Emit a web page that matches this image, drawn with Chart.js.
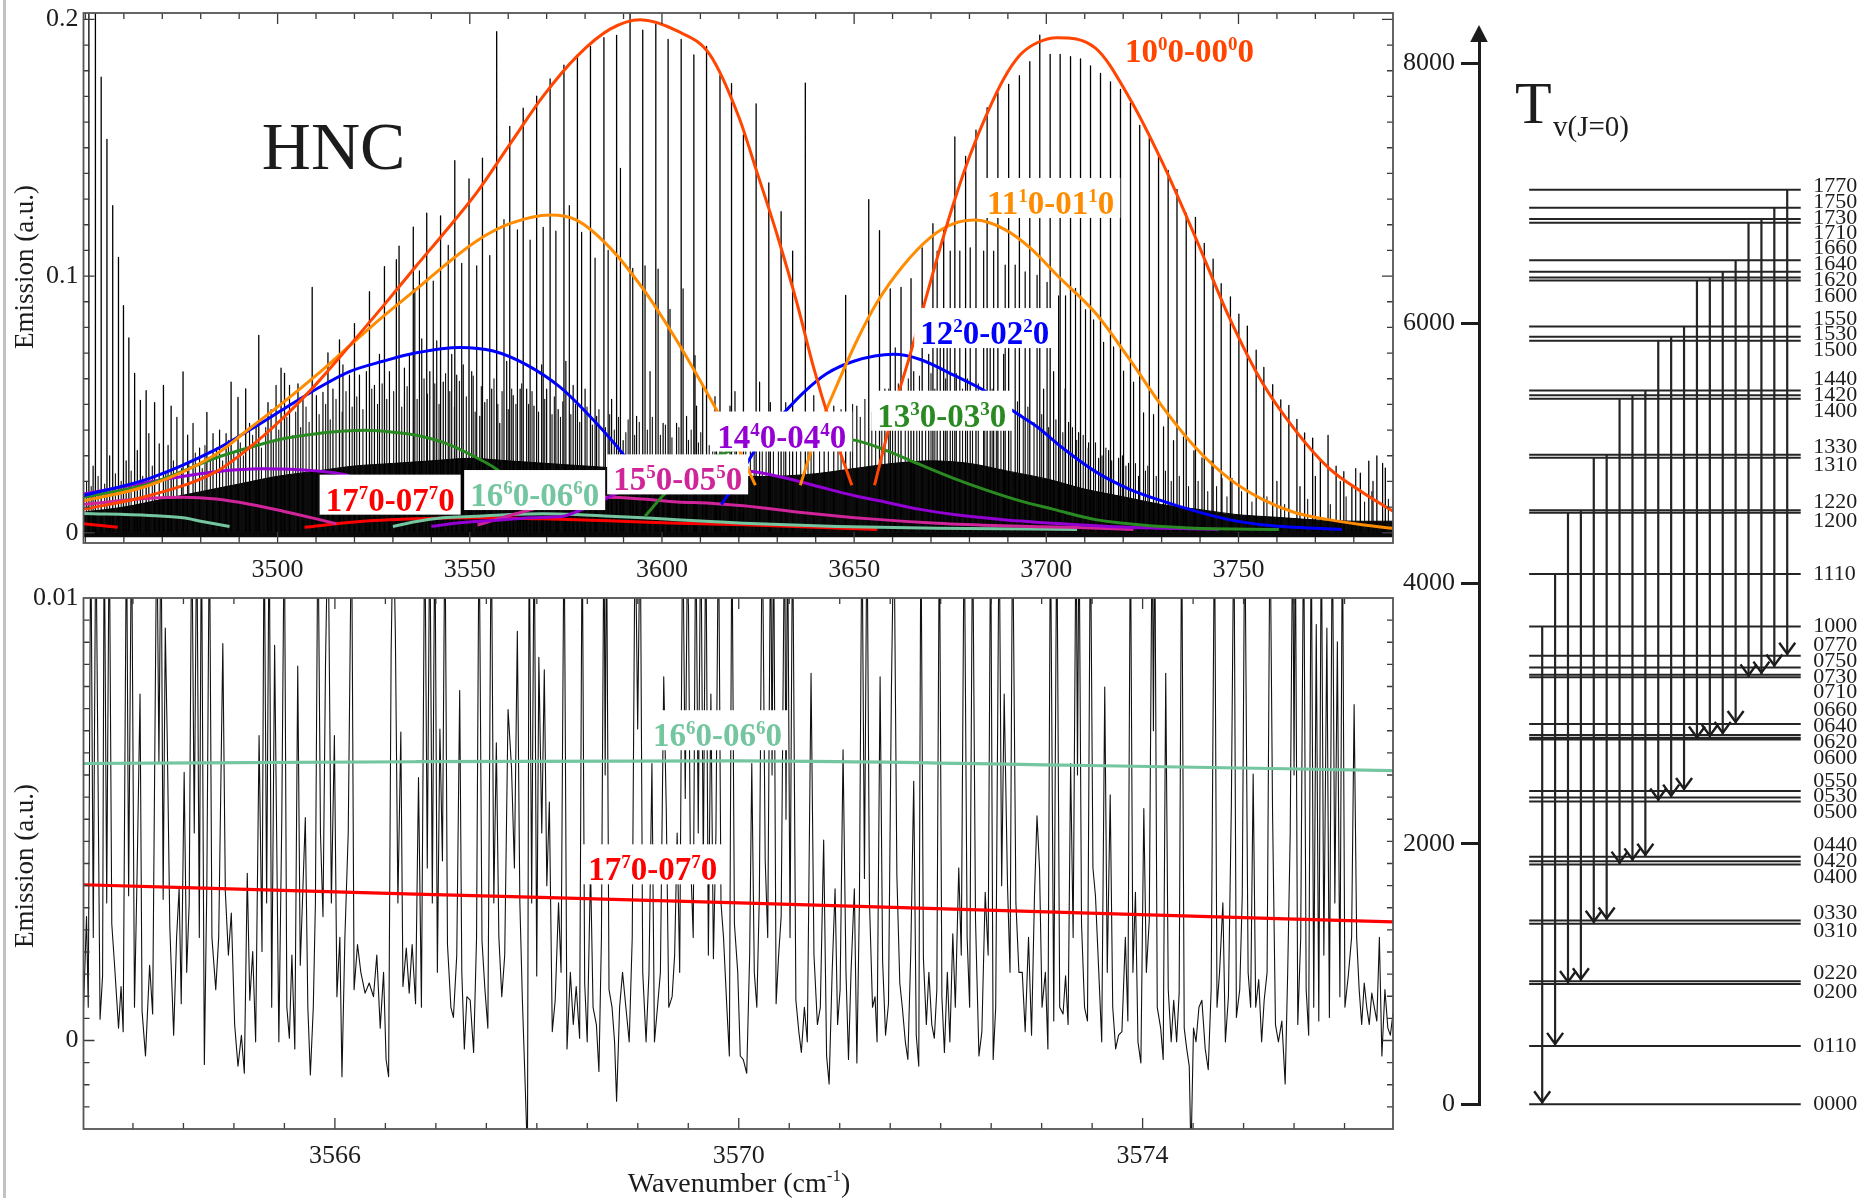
<!DOCTYPE html>
<html>
<head>
<meta charset="utf-8">
<script src="https://cdn.jsdelivr.net/npm/chart.js@4.4.1/dist/chart.umd.min.js"></script>
<style>
  html, body { margin: 0; padding: 0; background: #fff; }
  body { width: 1862px; height: 1198px; position: relative; overflow: hidden; }
  canvas { position: absolute; }
  #edge { position: absolute; left: 3px; top: 0; width: 3px; height: 1198px; background: #c2c2c2; }
</style>
</head>
<body>
<div id="edge"></div>
<canvas id="survey" width="1400" height="600" style="left:0;top:0"></canvas>
<canvas id="closeup" width="1400" height="618" style="left:0;top:580px"></canvas>
<canvas id="levels" width="482" height="1198" style="left:1380px;top:0"></canvas>
<script>
const SERIF = '"Liberation Serif", "Times New Roman", serif';
const INK = '#1c1c1c';

// ---------- survey spectrum (top panel) ----------
const surveyTickLabelsX = [3500, 3550, 3600, 3650, 3700, 3750];
const surveyTickLabelsY = [0, 0.1, 0.2];

// strongest rotational lines [wavenumber, emission]
const strongLines = [
  [3450.9,0.21],[3452.6,0.21],[3454.1,0.1775],[3455.6,0.1533],[3457.1,0.1274],[3458.6,0.1073],
  [3459.9,0.0885],[3461.3,0.0759],[3462.8,0.0621],[3464.3,0.0516],[3465.8,0.0554],[3468.0,0.0507],
  [3470.3,0.0574],[3472.3,0.0493],[3475.4,0.0627],[3481.6,0.0469],[3487.9,0.0587],[3489.7,0.0527],
  [3491.7,0.056],[3495.1,0.0769],[3497.5,0.0507],[3500.9,0.0641],[3501.8,0.0621],[3505.3,0.058],
  [3509.0,0.0956],[3513.1,0.0701],[3516.1,0.0751],[3520.0,0.0815],[3523.9,0.0939],[3527.8,0.1037],
  [3530.9,0.1064],[3531.6,0.1117],[3535.3,0.1191],[3538.8,0.1245],[3542.4,0.1234],[3546.1,0.145],
  [3549.8,0.1379],[3553.3,0.1459],[3557.0,0.1952],[3560.4,0.1583],[3563.9,0.1654],[3567.4,0.1701],
  [3570.9,0.1768],[3574.5,0.1822],[3578.0,0.1862],[3581.4,0.1895],[3584.9,0.1929],[3588.2,0.1938],
  [3591.7,0.2024],[3595.0,0.1958],[3598.4,0.1982],[3601.6,0.1922],[3605.0,0.1922],[3608.3,0.1862],
  [3611.6,0.1895],[3615.1,0.1781],[3618.1,0.175],[3621.2,0.155],[3624.5,0.1671],[3627.8,0.1363],
  [3631.0,0.1251],[3634.0,0.1097],[3637.3,0.1752],[3647.8,0.0925],[3653.8,0.1298],[3656.6,0.1177],
  [3659.4,0.095],[3662.2,0.0956],[3664.8,0.099],[3667.7,0.111],[3670.5,0.1204],[3673.3,0.1177],
  [3676.2,0.1542],[3679.0,0.1466],[3681.7,0.1569],[3684.6,0.1656],[3687.4,0.1714],[3690.2,0.1747],
  [3693.0,0.1781],[3695.7,0.1835],[3698.3,0.1939],[3701.0,0.1864],[3703.6,0.1864],[3706.3,0.1855],
  [3708.9,0.1846],[3711.5,0.1819],[3714.1,0.179],[3716.7,0.1757],[3719.3,0.1727],[3721.9,0.1674],
  [3724.3,0.1587],[3726.8,0.1537],[3729.2,0.1473],[3731.7,0.1412],[3734.0,0.1338],[3736.4,0.1245],
  [3738.8,0.1229],[3741.1,0.1127],[3743.4,0.1066],[3745.5,0.097],[3747.9,0.0919],[3750.1,0.0852],
  [3752.3,0.0805],[3754.6,0.0711],[3756.6,0.0644],[3758.9,0.0577],[3761.0,0.0518],[3763.1,0.0496],
  [3765.2,0.0442],[3767.2,0.0389],[3769.3,0.0369],[3771.3,0.0285],[3773.3,0.0379],[3775.4,0.0259],
  [3777.4,0.0238],[3779.5,0.0178],[3781.7,0.0232],[3783.9,0.0279],[3786.0,0.0299],[3788.2,0.0252]
];

// hot-band lines of medium strength
const mediumLines = [
  [3536.9,0.102],[3540.5,0.098],[3544.4,0.112],[3547.9,0.105],[3551.8,0.104],[3555.2,0.108],
  [3558.9,0.122],[3562.4,0.118],[3565.7,0.114],[3569.1,0.119],[3572.4,0.1175],[3575.9,0.1275],
  [3579.1,0.117],[3582.6,0.107],[3586.0,0.11],[3589.2,0.142],[3592.4,0.103],[3595.6,0.104],
  [3599.0,0.1027],[3602.1,0.087],[3605.5,0.095],[3608.6,0.069],[3610.6,0.057],[3613.8,0.053],
  [3619.0,0.055],[3671.6,0.1097],[3675.0,0.1097],[3677.5,0.1097],[3680.2,0.111],[3683.7,0.1097],
  [3686.3,0.1097],[3689.3,0.1043],[3691.9,0.1043],[3694.5,0.1016],[3697.6,0.1003],[3700.2,0.0976],
  [3703.2,0.0923],[3705.0,0.0923],[3707.6,0.0952],[3710.2,0.0869],[3712.3,0.0829],[3714.9,0.0742],
  [3717.5,0.0724],[3720.1,0.063],[3722.7,0.0587],[3725.3,0.0467],[3727.9,0.046],[3730.5,0.0413],
  [3733.1,0.0359],[3735.7,0.0373],[3738.4,0.0319],[3740.5,0.0292],[3743.1,0.0279],[3745.7,0.0212],
  [3748.3,0.0212]
];

// weaker lines standing out of the dense forest
const weakLines = [
  [3452.0,0.026],[3456.3,0.03],[3460.6,0.028],[3463.5,0.032],[3466.5,0.0386],[3469.2,0.0346],
  [3471.5,0.034],[3473.8,0.045],[3476.6,0.038],[3478.0,0.0426],[3479.7,0.033],[3483.2,0.0386],
  [3484.9,0.04],[3486.6,0.0386],[3492.7,0.0426],[3494.4,0.0426],[3498.3,0.048],[3499.6,0.0574],
  [3503.1,0.0574],[3506.6,0.052],[3510.1,0.0534],[3511.8,0.0547],[3514.4,0.056],[3517.0,0.0654],
  [3518.7,0.0614],[3521.3,0.0614],[3523.1,0.0628],[3525.2,0.0574],[3526.5,0.0695],[3529.1,0.0628],
  [3533.0,0.0641],[3534.3,0.0695],[3535.7,0.095],[3537.5,0.0755],[3539.6,0.0628],[3541.4,0.0748],
  [3543.1,0.0587],[3545.3,0.0695],[3546.6,0.0614],[3548.3,0.0654],[3550.5,0.0628],[3552.6,0.0453],
  [3553.9,0.0507],[3555.7,0.056],[3557.8,0.0426],[3559.6,0.0668],[3561.3,0.0534],[3563.1,0.056],
  [3564.8,0.056],[3566.7,0.0493],[3568.7,0.0654],[3570.0,0.056],[3573.0,0.048],[3575.0,0.0668],
  [3576.9,0.0574],[3580.0,0.056],[3583.0,0.0453],[3586.9,0.052],[3589.9,0.0359],[3593.4,0.0453],
  [3596.9,0.0628],[3600.3,0.0426],[3603.8,0.0426],[3606.4,0.0453],[3609.0,0.0493],[3614.2,0.0426],
  [3617.7,0.0493],[3620.3,0.0386],[3625.4,0.0587],[3628.2,0.0507],[3632.2,0.0507],[3639.5,0.0534],
  [3642.2,0.047],[3644.7,0.0493],[3650.7,0.0493],[3658.0,0.056],[3660.7,0.072],[3665.5,0.0628],
  [3669.4,0.0695],[3672.4,0.0762],[3674.2,0.0829],[3685.4,0.0774],[3688.9,0.0695],[3699.3,0.056],
  [3701.9,0.0628],[3704.9,0.056],[3705.8,0.043],[3708.4,0.039],[3711.0,0.035],[3713.6,0.029],
  [3716.2,0.032],[3718.8,0.029],[3721.4,0.027],[3724.0,0.022],[3760.0,0.02],[3766.0,0.018],
  [3770.0,0.022],[3776.5,0.02],[3780.5,0.025],[3785.0,0.02],[3787.5,0.027]
];

// faint lines making up the dense forest
const faintLines = [
  [3450.3,0.02],[3451.5,0.018],[3453.3,0.022],[3455.0,0.019],[3457.8,0.023],[3459.3,0.02],
  [3461.9,0.024],[3464.9,0.022],[3467.4,0.026],[3470.9,0.024],[3472.9,0.028],[3475.0,0.025],
  [3476.9,0.027],[3478.6,0.031],[3480.4,0.025],[3481.1,0.034],[3482.5,0.029],[3484.1,0.033],
  [3485.7,0.028],[3487.2,0.036],[3488.6,0.031],[3490.3,0.035],[3491.1,0.03],[3493.5,0.038],
  [3495.8,0.033],[3496.9,0.041],[3498.9,0.036],[3500.3,0.04],[3502.4,0.045],[3504.0,0.038],
  [3504.7,0.047],[3506.0,0.041],[3507.4,0.049],[3508.2,0.043],[3510.8,0.046],[3512.5,0.05],
  [3513.7,0.044],[3515.2,0.052],[3516.8,0.047],[3517.8,0.055],[3519.4,0.049],[3520.6,0.053],
  [3522.2,0.048],[3524.5,0.056],[3526.0,0.05],[3527.2,0.058],[3528.4,0.052],[3530.2,0.055],
  [3532.3,0.049],[3533.7,0.057],[3536.3,0.052],[3538.1,0.06],[3539.0,0.054],[3540.9,0.058],
  [3542.0,0.05],[3543.7,0.062],[3544.8,0.055],[3546.0,0.049],[3547.3,0.059],[3549.1,0.053],
  [3550.9,0.061],[3551.4,0.047],[3553.0,0.057],[3554.5,0.052],[3556.3,0.06],[3557.3,0.05],
  [3558.4,0.055],[3560.0,0.048],[3560.9,0.056],[3562.0,0.05],[3563.5,0.058],[3565.3,0.05],
  [3566.2,0.055],[3567.9,0.047],[3569.5,0.052],[3571.4,0.046],[3572.0,0.053],[3573.6,0.045],
  [3574.2,0.051],[3576.3,0.046],[3577.5,0.05],[3578.6,0.043],[3580.5,0.049],[3581.9,0.042],
  [3583.6,0.048],[3585.3,0.041],[3586.4,0.046],[3587.6,0.04],[3588.7,0.045],[3590.6,0.039],
  [3591.2,0.044],[3592.9,0.038],[3594.1,0.043],[3596.2,0.04],[3597.5,0.045],[3599.6,0.038],
  [3600.9,0.042],[3602.6,0.037],[3604.4,0.041],[3606.9,0.036],[3607.6,0.04],[3609.5,0.035],
  [3610.1,0.039],[3612.3,0.034],[3613.2,0.04],[3615.6,0.035],[3616.6,0.038],[3619.4,0.034],
  [3621.8,0.039],[3623.0,0.034],[3624.0,0.041],[3626.1,0.036],[3627.1,0.042],[3629.0,0.037],
  [3630.3,0.043],[3631.7,0.038],[3633.2,0.044],[3635.0,0.039],[3636.1,0.045],[3638.0,0.04],
  [3638.8,0.046],[3641.0,0.041],[3643.3,0.047],[3645.8,0.042],[3646.6,0.048],[3649.0,0.043],
  [3649.6,0.05],[3651.6,0.045],[3652.8,0.052],[3654.6,0.047],[3655.6,0.054],[3657.2,0.049],
  [3659.0,0.056],[3660.0,0.05],[3661.5,0.058],[3663.3,0.052],[3664.1,0.06],[3666.3,0.054],
  [3667.0,0.061],[3668.6,0.055],[3670.0,0.062],[3671.0,0.056],[3673.8,0.06],[3675.6,0.055],
  [3676.6,0.062],[3678.2,0.056],[3679.5,0.06],[3680.8,0.054],[3682.3,0.058],[3684.0,0.052],
  [3685.9,0.056],[3687.0,0.05],[3688.2,0.054],[3690.8,0.048],[3692.5,0.051],[3694.0,0.045],
  [3695.2,0.049],[3696.8,0.043],[3698.8,0.046],[3700.6,0.041],[3702.5,0.044],[3704.3,0.039],
  [3706.8,0.041],[3707.9,0.036],[3709.6,0.038],[3710.9,0.033],[3712.8,0.035],[3714.5,0.03],
  [3715.5,0.033],[3717.0,0.028],[3719.8,0.03],[3720.7,0.026],[3723.2,0.027],[3725.8,0.024],
  [3726.4,0.026],[3728.6,0.022],[3731.0,0.024],[3732.5,0.02],[3734.6,0.022],[3737.0,0.018],
  [3739.5,0.02],[3742.0,0.016],[3744.3,0.018],[3747.0,0.014],[3750.8,0.016],[3753.5,0.012],
  [3757.4,0.014],[3762.0,0.011],[3768.0,0.013],[3773.9,0.011],[3778.0,0.014],[3782.8,0.012],
  [3784.7,0.016],[3789.0,0.013]
];

// upper edge of the unresolved line forest near the baseline
const forestEdge = [
  [3449.5,0.008],[3460,0.01],[3470,0.013],[3480,0.016],[3490,0.019],[3500,0.022],[3510,0.024],
  [3520,0.026],[3530,0.027],[3540,0.028],[3550,0.029],[3560,0.028],[3570,0.027],[3580,0.026],
  [3590,0.025],[3600,0.024],[3610,0.023],[3620,0.022],[3630,0.022],[3640,0.023],[3650,0.025],
  [3660,0.027],[3670,0.028],[3680,0.027],[3690,0.024],[3700,0.021],[3710,0.017],[3720,0.014],
  [3730,0.011],[3740,0.009],[3750,0.007],[3760,0.006],[3770,0.005],[3780,0.0045],[3790.2,0.0045]
];

// band envelopes: P branch and R branch of each transition
const env10P = [[3449.5,0.0091],[3466.7,0.0145],[3484.0,0.0238],[3492.7,0.0332],[3501.4,0.0447],[3510.1,0.058],[3518.7,0.0728],[3527.4,0.0882],[3536.1,0.104],[3543.1,0.1164],[3551.8,0.1325],[3560.4,0.1513],[3569.1,0.1701],[3577.8,0.1855],[3586.5,0.1962],[3594.3,0.1999],[3603.8,0.1956],[3612.5,0.1862],[3620.0,0.162],[3624.7,0.1406],[3629.9,0.1164],[3635.1,0.0896],[3639.5,0.0641],[3643.8,0.0426],[3649.4,0.0185]];
const env10R = [[3655.3,0.0185],[3660.3,0.048],[3664.6,0.0695],[3668.1,0.0883],[3671.6,0.107],[3675.9,0.1285],[3680.2,0.1473],[3684.6,0.1634],[3688.9,0.1768],[3693.2,0.1862],[3697.6,0.1909],[3702.8,0.1929],[3712.8,0.1888],[3721.4,0.17],[3730.1,0.1446],[3738.8,0.1151],[3747.5,0.0842],[3756.1,0.0587],[3764.8,0.0399],[3773.5,0.0252],[3782.2,0.0158],[3790.2,0.0084]];
const env11P = [[3449.5,0.0124],[3466.7,0.0185],[3484.0,0.0306],[3492.7,0.0406],[3501.4,0.0507],[3510.1,0.0614],[3518.7,0.0728],[3527.4,0.0842],[3536.1,0.0949],[3543.1,0.1037],[3551.8,0.1137],[3560.4,0.1204],[3570.9,0.1238],[3577.8,0.1218],[3586.5,0.111],[3595.1,0.095],[3603.8,0.075],[3610.8,0.057],[3616.0,0.043],[3620.5,0.031],[3624.3,0.0185]];
const env11R = [[3636.0,0.0185],[3640.3,0.0386],[3645.5,0.0574],[3650.7,0.0748],[3655.9,0.0896],[3662.9,0.1043],[3669.8,0.115],[3675.9,0.1204],[3681.5,0.1218],[3688.9,0.1184],[3695.8,0.111],[3702.8,0.1003],[3712.8,0.0856],[3721.4,0.0681],[3730.1,0.0493],[3738.8,0.0332],[3747.5,0.0212],[3756.1,0.0131],[3764.8,0.0078],[3773.5,0.0051],[3782.2,0.0031],[3790.2,0.0017]];
const env12P = [[3449.5,0.0145],[3466.7,0.0212],[3484.0,0.0325],[3492.7,0.04],[3501.4,0.048],[3510.1,0.056],[3518.7,0.0628],[3527.4,0.0668],[3536.1,0.0701],[3547.4,0.0722],[3556.1,0.0708],[3564.8,0.0654],[3573.5,0.0567],[3582.1,0.044],[3589.9,0.0306],[3595.5,0.0185]];
const env12R = [[3615.5,0.011],[3618.5,0.018],[3623.0,0.0292],[3627.0,0.039],[3632.1,0.0473],[3636.9,0.0547],[3642.9,0.062],[3649.9,0.0668],[3660.3,0.0695],[3667.2,0.0675],[3675.9,0.0614],[3684.6,0.0547],[3691.5,0.0473],[3697.6,0.0413],[3704.1,0.0332],[3712.8,0.0238],[3721.4,0.0171],[3730.1,0.0124],[3738.8,0.0084],[3747.5,0.0051],[3756.1,0.0031],[3764.8,0.0021],[3776.9,0.0013]];
const env13P = [[3449.5,0.0138],[3466.7,0.0191],[3484.0,0.0292],[3492.7,0.0332],[3501.4,0.0366],[3510.1,0.0386],[3518.7,0.0397],[3523.0,0.0399],[3531.7,0.0389],[3536.1,0.038],[3543.1,0.0352],[3551.8,0.0292],[3557.8,0.0238],[3561.0,0.0185]];
const env13R = [[3595.6,0.0064],[3600.3,0.0145],[3608.0,0.025],[3618.0,0.032],[3630.0,0.036],[3640.0,0.0372],[3650.7,0.0359],[3658.6,0.0319],[3667.2,0.0265],[3675.9,0.0212],[3684.6,0.0165],[3693.2,0.0124],[3701.9,0.0091],[3712.8,0.0051],[3721.4,0.0035],[3730.1,0.0024],[3738.8,0.0017],[3760.5,0.0013]];
const env14P = [[3449.5,0.0151],[3466.7,0.0198],[3484.0,0.0238],[3496.2,0.0249],[3510.1,0.0241],[3517.0,0.0228],[3522.0,0.0205]];
const env14R = [[3540.0,0.0025],[3547.0,0.0038],[3556.0,0.0048],[3566.0,0.0058],[3574.3,0.0064],[3577.0,0.0077],[3585.0,0.013],[3595.0,0.02],[3605.0,0.0235],[3615.0,0.0245],[3623.9,0.0238],[3632.5,0.0212],[3641.2,0.0178],[3649.9,0.0145],[3658.6,0.0118],[3667.2,0.0091],[3675.9,0.0071],[3688.9,0.0051],[3704.1,0.0035],[3721.4,0.0021],[3744.9,0.0013]];
const env15P = [[3449.5,0.0111],[3466.7,0.0134],[3475.4,0.0138],[3484.0,0.0131],[3492.7,0.0111],[3501.4,0.0084],[3510.1,0.0054],[3515.3,0.0035]];
const env15R = [[3552.0,0.003],[3560.0,0.0065],[3570.0,0.0105],[3585.6,0.0138],[3595.1,0.0131],[3604.0,0.012],[3612.5,0.0115],[3621.2,0.0105],[3636.9,0.0078],[3654.2,0.0054],[3671.6,0.0037],[3688.9,0.0027],[3706.2,0.0021],[3722.7,0.0013]];
const env16P = [[3449.5,0.0075],[3466.7,0.0067],[3475.4,0.0058],[3480.0,0.0045],[3487.5,0.0024]];
const env16R = [[3530.0,0.0024],[3536.1,0.0044],[3543.1,0.0058],[3551.8,0.0064],[3560.4,0.0071],[3569.1,0.0074],[3577.8,0.0071],[3586.5,0.0064],[3595.1,0.0058],[3603.8,0.0051],[3612.5,0.0044],[3621.2,0.0037],[3645.5,0.0024],[3671.6,0.0017],[3708.0,0.0013]];
const env17P = [[3449.5,0.0035],[3458.4,0.0021]];
const env17R = [[3507.0,0.0021],[3520.0,0.0042],[3536.1,0.0054],[3552.0,0.0058],[3569.0,0.0054],[3586.0,0.0047],[3604.0,0.0037],[3621.2,0.0031],[3640.0,0.0021],[3656.0,0.0013]];

const bandNames = ['10{0}0-00{0}0', '11{1}0-01{1}0', '12{2}0-02{2}0', '13{3}0-03{3}0',
                   '14{4}0-04{4}0', '15{5}0-05{5}0', '16{6}0-06{6}0', '17{7}0-07{7}0'];
const bandEnvelopes = [[env10P, env10R], [env11P, env11R], [env12P, env12R], [env13P, env13R],
                       [env14P, env14R], [env15P, env15R], [env16P, env16R], [env17P, env17R]];
const bandColors = ['#ff4500', '#ff8c00', '#0000ff', '#2a8a22', '#9400d3', '#d0249a', '#74c6a0', '#ff0000'];
// label anchor (left edge, baseline) in data units
const bandLabelAt = [[3720.5,0.1834],[3684.6,0.1242],[3667.2,0.0735],[3656.0,0.0413],
                     [3614.4,0.0332],[3587.3,0.0165],[3550.1,0.0104],[3512.5,0.0086]];
const moleculeAt = [3495.9, 0.1419];

// ---------- close-up (bottom panel) ----------
const closeTickLabelsX = [3566, 3570, 3574];
const closeTickLabelsY = [0, 0.01];
const closeSpectrum = [
  [3563.507,0.00052],[3563.540,0.0028],[3563.557,0.00075],[3563.582,0.012],[3563.607,0.00233],[3563.632,0.012],
  [3563.674,0.00048],[3563.699,0.00146],[3563.715,0.012],[3563.740,0.00311],[3563.765,0.012],[3563.790,0.00264],
  [3563.820,0.00162],[3563.857,0.00028],[3563.882,0.00122],[3563.903,0.0002],[3563.936,0.012],[3563.957,0.00327],
  [3563.986,0.012],[3564.015,0.00075],[3564.040,0.00366],[3564.070,0.00783],[3564.090,0.00067],[3564.124,-0.00035],
  [3564.165,0.0017],[3564.195,0.0006],[3564.236,0.012],[3564.257,0.00626],[3564.278,0.012],[3564.299,0.00319],
  [3564.320,0.00932],[3564.340,0.00673],[3564.365,0.00256],[3564.403,0.00012],[3564.432,0.00233],[3564.457,0.00343],
  [3564.478,0.00083],[3564.507,0.00606],[3564.532,0.00154],[3564.557,0.00311],[3564.582,0.012],[3564.607,0.00469],
  [3564.632,0.012],[3564.657,0.00233],[3564.678,0.012],[3564.707,-0.00054],[3564.732,0.00358],[3564.757,0.012],
  [3564.782,0.00233],[3564.820,0.00115],[3564.849,0.00233],[3564.890,0.00897],[3564.915,0.00335],[3564.945,0.00193],
  [3564.974,0.00288],[3565.007,0.00036],[3565.040,-0.00058],[3565.074,0.00012],[3565.103,-0.00074],[3565.132,0.00378],
  [3565.157,0.00091],[3565.186,0.00201],[3565.215,-0.00003],[3565.249,0.00689],[3565.278,0.00201],[3565.299,0.012],
  [3565.324,0.00311],[3565.349,0.012],[3565.374,0.00075],[3565.403,0.00893],[3565.445,-0.00003],[3565.474,0.005],
  [3565.499,0.012],[3565.524,0.00075],[3565.549,0.00005],[3565.574,0.00193],[3565.603,-0.00019],[3565.632,0.00846],
  [3565.657,0.0017],[3565.707,0.00504],[3565.732,0.00075],[3565.757,-0.00078],[3565.786,0.00075],[3565.807,0.00311],
  [3565.832,0.012],[3565.857,0.00469],[3565.882,0.0028],[3565.907,0.0085],[3565.932,0.012],[3565.965,0.00311],
  [3565.995,0.00689],[3566.020,0.00099],[3566.049,0.00233],[3566.070,-0.00082],[3566.099,0.00233],[3566.132,0.00469],
  [3566.165,0.012],[3566.190,0.00115],[3566.224,0.00217],[3566.257,0.00154],[3566.299,0.00107],[3566.340,0.0013],
  [3566.382,0.00099],[3566.415,0.00193],[3566.449,0.00028],[3566.482,0.00154],[3566.507,-0.00043],[3566.532,-0.00082],
  [3566.557,0.00877],[3566.578,0.012],[3566.599,0.00917],[3566.624,0.00311],[3566.653,0.00697],[3566.674,0.00122],
  [3566.707,0.00209],[3566.736,0.00107],[3566.765,0.00217],[3566.799,0.00083],[3566.828,0.00594],[3566.857,0.00075],
  [3566.890,0.012],[3566.915,0.0039],[3566.940,0.012],[3566.965,0.00311],[3566.990,0.012],[3567.015,0.00154],
  [3567.040,0.00704],[3567.065,0.00406],[3567.090,0.012],[3567.115,0.00217],[3567.149,0.00075],[3567.174,0.00052],
  [3567.207,0.00193],[3567.236,0.00791],[3567.257,0.00154],[3567.282,-0.00019],[3567.307,0.00099],[3567.340,0.00091],
  [3567.374,-0.00027],[3567.403,0.00233],[3567.428,0.012],[3567.457,0.00225],[3567.486,0.00115],[3567.515,0.00028],
  [3567.549,0.012],[3567.574,0.00311],[3567.599,0.00673],[3567.624,0.00233],[3567.653,0.00099],[3567.682,0.00193],
  [3567.715,0.00748],[3567.749,0.00618],[3567.778,0.0039],[3567.807,0.00925],[3567.832,0.00311],[3567.857,0.00091],
  [3567.882,-0.00082],[3567.907,-0.0026],[3567.924,0.012],[3567.949,0.00311],[3567.974,0.012],[3567.999,0.00146],
  [3568.020,0.00866],[3568.049,0.00469],[3568.074,0.00838],[3568.099,0.0035],[3568.124,0.00539],[3568.153,0.0002],
  [3568.182,0.00091],[3568.215,0.00311],[3568.240,0.00154],[3568.270,0.012],[3568.299,-0.00019],[3568.332,0.00154],
  [3568.361,0.00036],[3568.390,0.00122],[3568.424,0.00005],[3568.449,0.012],[3568.474,0.0013],[3568.499,-0.00003],
  [3568.532,0.0039],[3568.557,0.00075],[3568.590,0.00036],[3568.615,-0.0007],[3568.640,0.00233],[3568.665,0.012],
  [3568.677,0.006],[3568.690,0.012],[3568.715,0.00115],[3568.745,0.00075],[3568.770,-0.00003],[3568.790,-0.00137],
  [3568.820,0.00075],[3568.849,0.00154],[3568.882,0.00075],[3568.915,-0.00003],[3568.945,0.00233],[3568.974,0.012],
  [3568.999,0.00704],[3569.024,0.012],[3569.049,0.00154],[3569.082,-0.00003],[3569.111,0.00154],[3569.140,0.00626],
  [3569.165,-0.00003],[3569.195,0.00075],[3569.224,0.00154],[3569.257,0.00822],[3569.282,0.00524],[3569.307,0.00075],
  [3569.340,0.00099],[3569.365,0.00193],[3569.390,0.00469],[3569.415,0.00154],[3569.445,0.012],[3569.470,0.00547],
  [3569.495,0.012],[3569.520,0.00429],[3569.549,0.00233],[3569.574,0.012],[3569.599,0.00469],[3569.624,0.012],
  [3569.649,0.0039],[3569.674,0.012],[3569.699,0.00193],[3569.724,0.00783],[3569.749,0.00185],[3569.774,0.00469],
  [3569.799,0.012],[3569.824,0.00311],[3569.849,0.00233],[3569.882,0.00075],[3569.907,-0.00035],[3569.932,0.012],
  [3569.957,0.00264],[3569.990,0.00154],[3570.015,-0.00035],[3570.045,-0.00043],[3570.079,-0.00074],[3570.108,0.00193],
  [3570.129,0.00626],[3570.154,0.00154],[3570.179,0.00075],[3570.204,0.00327],[3570.233,0.012],[3570.262,0.00406],
  [3570.287,0.00233],[3570.316,0.012],[3570.330,0.006],[3570.345,0.012],[3570.370,0.00083],[3570.395,0.00193],
  [3570.420,0.0028],[3570.454,0.012],[3570.468,0.005],[3570.483,0.012],[3570.508,0.00233],[3570.533,0.012],
  [3570.566,0.00091],[3570.595,0.0002],[3570.620,-0.00027],[3570.650,0.00075],[3570.679,-0.00003],[3570.716,0.0083],
  [3570.745,0.00193],[3570.779,0.00036],[3570.808,0.00075],[3570.841,0.00453],[3570.870,-0.00035],[3570.895,-0.00098],
  [3570.925,0.00154],[3570.954,0.00343],[3570.979,0.00036],[3571.004,0.00115],[3571.033,0.00657],[3571.062,0.00154],
  [3571.087,-0.00043],[3571.112,0.00154],[3571.145,0.00343],[3571.170,-0.00051],[3571.195,0.00311],[3571.220,0.012],
  [3571.245,0.00366],[3571.270,0.012],[3571.295,0.00311],[3571.325,0.00075],[3571.350,0.00099],[3571.370,-0.00003],
  [3571.400,0.00822],[3571.425,0.00178],[3571.454,0.00012],[3571.483,0.00083],[3571.512,0.00791],[3571.537,0.012],
  [3571.566,0.00374],[3571.595,0.0013],[3571.620,0.00075],[3571.650,-0.00003],[3571.675,-0.00043],[3571.704,0.00201],
  [3571.733,0.00586],[3571.758,0.00012],[3571.783,-0.00058],[3571.804,0.012],[3571.829,0.00185],[3571.858,0.00036],
  [3571.883,0.00154],[3571.912,0.00036],[3571.937,0.00005],[3571.962,0.00115],[3571.987,0.012],[3572.012,0.00099],
  [3572.037,-0.00027],[3572.066,0.00154],[3572.091,-0.00003],[3572.120,0.00241],[3572.145,0.00075],[3572.179,0.0039],
  [3572.204,0.00193],[3572.233,0.012],[3572.262,0.00233],[3572.287,0.00075],[3572.316,0.012],[3572.345,0.00272],
  [3572.379,-0.00035],[3572.408,0.0002],[3572.441,0.00335],[3572.470,0.00193],[3572.495,0.012],[3572.520,-0.00043],
  [3572.545,0.00075],[3572.579,0.012],[3572.604,0.0035],[3572.629,0.00783],[3572.662,0.0035],[3572.687,0.00154],
  [3572.712,0.012],[3572.745,0.00311],[3572.775,0.00154],[3572.808,0.00154],[3572.837,0.0002],[3572.870,0.00233],
  [3572.900,0.00012],[3572.929,0.00327],[3572.954,0.00508],[3572.979,0.0039],[3573.004,0.00075],[3573.037,0.00154],
  [3573.062,-0.00019],[3573.087,0.012],[3573.120,0.00044],[3573.150,0.012],[3573.179,0.00075],[3573.212,0.0006],
  [3573.237,0.00146],[3573.262,0.00036],[3573.287,0.00626],[3573.312,0.00233],[3573.341,0.012],[3573.355,0.006],
  [3573.370,0.012],[3573.395,0.00264],[3573.425,0.00075],[3573.454,0.00044],[3573.483,0.012],[3573.508,0.0039],
  [3573.533,0.00327],[3573.566,0.00154],[3573.595,-0.00003],[3573.625,0.00799],[3573.650,0.00154],[3573.679,0.00555],
  [3573.704,0.00075],[3573.733,-0.00019],[3573.762,0.00012],[3573.795,0.0002],[3573.829,0.00233],[3573.854,0.00044],
  [3573.879,0.012],[3573.904,0.00154],[3573.929,0.00335],[3573.954,-0.00003],[3573.983,-0.00051],[3574.012,0.00524],
  [3574.037,0.00154],[3574.066,0.00272],[3574.095,0.012],[3574.107,0.007],[3574.120,0.012],[3574.145,0.00075],
  [3574.179,0.00028],[3574.204,-0.00043],[3574.229,0.0083],[3574.254,0.00115],[3574.283,-0.00003],[3574.308,0.00091],
  [3574.337,-0.00003],[3574.362,0.00107],[3574.387,0.012],[3574.412,0.00028],[3574.437,-0.00019],[3574.462,-0.00058],
  [3574.479,-0.0026],[3574.504,0.00028],[3574.529,-0.00003],[3574.558,0.00075],[3574.587,0.00091],[3574.620,-0.00019],
  [3574.650,-0.00066],[3574.679,0.00115],[3574.712,0.012],[3574.737,0.00075],[3574.762,0.00154],[3574.795,0.00311],
  [3574.820,-0.00003],[3574.850,0.00099],[3574.879,0.00531],[3574.904,0.012],[3574.929,0.00052],[3574.962,0.00115],
  [3574.987,0.00327],[3575.012,0.012],[3575.045,0.00154],[3575.070,0.00075],[3575.095,0.00602],[3575.120,0.00075],
  [3575.150,0.00138],[3575.179,-0.00003],[3575.204,0.00091],[3575.233,0.00154],[3575.262,0.012],[3575.287,0.00516],
  [3575.316,0.00036],[3575.345,-0.00003],[3575.379,0.00044],[3575.412,-0.00098],[3575.437,0.00154],[3575.462,0.00469],
  [3575.487,0.012],[3575.500,0.006],[3575.512,0.012],[3575.537,0.00036],[3575.566,0.00233],[3575.595,0.012],
  [3575.620,0.00115],[3575.645,0.00012],[3575.670,0.012],[3575.695,0.00075],[3575.720,0.0094],[3575.745,0.00044],
  [3575.770,0.012],[3575.795,0.00193],[3575.825,0.00932],[3575.850,0.00052],[3575.879,0.012],[3575.904,0.00311],
  [3575.929,0.00901],[3575.954,0.00099],[3575.979,0.012],[3576.004,0.00075],[3576.037,0.00146],[3576.070,0.00233],
  [3576.095,0.00759],[3576.120,0.00233],[3576.145,0.00115],[3576.170,0.00036],[3576.195,0.0013],[3576.220,0.00075],
  [3576.245,0.00036],[3576.270,0.00107],[3576.295,0.00075],[3576.320,0.00044],[3576.345,0.00233],[3576.370,-0.00035],
  [3576.400,0.00115],[3576.429,0.00028],[3576.454,0.00012],[3576.480,0.00062]
];
const closeEnv16 = [[3563.51,0.00626],[3566.8,0.0063],[3570.0,0.00632],[3573.3,0.00622],[3576.48,0.0061]];
const closeEnv17 = [[3563.51,0.00352],[3566.8,0.00331],[3570.0,0.00311],[3573.3,0.00289],[3576.48,0.00268]];
const closeLabelAt = [[3569.15,0.00665],[3568.51,0.00362]];

// ---------- vibrational levels (right panel) ----------
const energyTicks = [0, 2000, 4000, 6000, 8000];
const levelNames = ['0000','0110','0200','0220','0310','0330','0400','0420','0440','0500','0530','0550',
  '0600','0620','0640','0660','0710','0730','0750','0770','1000','1110','1200','1220','1310','1330',
  '1400','1420','1440','1500','1530','1550','1600','1620','1640','1660','1710','1730','1750','1770'];
const levelEnergy = [0, 448, 924, 945, 1387, 1411, 1841, 1866, 1902, 2326, 2356, 2407,
  2802, 2816, 2838, 2922, 3280, 3301, 3356, 3446, 3671, 4074, 4544, 4565, 4968, 4991,
  5420, 5447, 5485, 5867, 5897, 5977, 6329, 6352, 6397, 6485, 6773, 6803, 6888, 7026];
const transitions = [['1000','0000'],['1110','0110'],['1200','0200'],['1220','0220'],['1310','0310'],
  ['1330','0330'],['1400','0400'],['1420','0420'],['1440','0440'],['1500','0500'],['1530','0530'],
  ['1550','0550'],['1600','0600'],['1620','0620'],['1640','0640'],['1660','0660'],['1710','0710'],
  ['1730','0730'],['1750','0750'],['1770','0770']];

// ---------- helpers ----------
const toPoints = pairs => pairs.map(p => ({x: p[0], y: p[1]}));
function sticks(lines) {
  const pts = [];
  lines.slice().sort((a, b) => a[0] - b[0]).forEach(([w, h]) => {
    pts.push({x: w, y: 0}, {x: w, y: h}, {x: w, y: 0});
  });
  return pts;
}
const near = (v, list) => list.some(t => Math.abs(t - v) < 1e-7);

function richText(ctx, text, x, y, color) {
  const parts = text.split(/(\{[^}]*\})/).filter(Boolean)
    .map(s => s[0] === '{' ? [s.slice(1, -1), true] : [s, false]);
  const big = `bold 33px ${SERIF}`, small = `bold 19px ${SERIF}`;
  let w = 0;
  parts.forEach(p => { ctx.font = p[1] ? small : big; w += ctx.measureText(p[0]).width; });
  ctx.fillStyle = '#fff';
  ctx.fillRect(x - 6, y - 36, w + 12, 40);
  ctx.fillStyle = color;
  ctx.textAlign = 'left';
  ctx.textBaseline = 'alphabetic';
  let cx = x;
  parts.forEach(p => {
    ctx.font = p[1] ? small : big;
    ctx.fillText(p[0], cx, p[1] ? y - 12 : y);
    cx += ctx.measureText(p[0]).width;
  });
}

function framePlugin(id, opt) {
  return {
    id,
    afterDraw(chart) {
      const {ctx, chartArea: a, scales: {x, y}} = chart;
      ctx.save();
      ctx.strokeStyle = '#3a3a3a';
      ctx.lineWidth = 1.3;
      ctx.beginPath();
      x.ticks.forEach(t => {
        const p = x.getPixelForValue(t.value);
        if (p < a.left + 1 || p > a.right - 1) return;
        const len = near(t.value, opt.xLabels) ? 11 : 6;
        ctx.moveTo(p, a.bottom); ctx.lineTo(p, a.bottom - len);
        ctx.moveTo(p, a.top); ctx.lineTo(p, a.top + len);
      });
      y.ticks.forEach(t => {
        const p = y.getPixelForValue(t.value);
        if (p < a.top + 1 || p > a.bottom - 1) return;
        const len = near(t.value, opt.yLabels) ? 11 : 6;
        ctx.moveTo(a.left, p); ctx.lineTo(a.left + len, p);
        ctx.moveTo(a.right, p); ctx.lineTo(a.right - len, p);
      });
      ctx.stroke();
      ctx.strokeStyle = '#555';
      ctx.lineWidth = 1.8;
      ctx.strokeRect(a.left, a.top, a.right - a.left, a.bottom - a.top);

      ctx.fillStyle = INK;
      ctx.font = `26px ${SERIF}`;
      ctx.textAlign = 'center';
      ctx.textBaseline = 'top';
      opt.xLabels.forEach(v => ctx.fillText(String(v), x.getPixelForValue(v), a.bottom + 14));
      ctx.textAlign = 'right';
      ctx.textBaseline = 'middle';
      opt.yLabels.forEach(v => ctx.fillText(String(v), a.left - 5, y.getPixelForValue(v)));

      ctx.save();
      ctx.translate(26, opt.titleY);
      ctx.rotate(-Math.PI / 2);
      ctx.font = `27px ${SERIF}`;
      ctx.textAlign = 'center';
      ctx.fillText('Emission (a.u.)', 0, 0);
      ctx.restore();

      if (opt.xTitle) {
        const big = `28px ${SERIF}`, small = `17px ${SERIF}`;
        const parts = [['Wavenumber (cm', false], ['-1', true], [')', false]];
        let w = 0;
        parts.forEach(p => { ctx.font = p[1] ? small : big; w += ctx.measureText(p[0]).width; });
        let cx = 739 - w / 2;
        const base = a.bottom + 63;
        ctx.textAlign = 'left';
        ctx.textBaseline = 'alphabetic';
        parts.forEach(p => {
          ctx.font = p[1] ? small : big;
          ctx.fillText(p[0], cx, p[1] ? base - 11 : base);
          cx += ctx.measureText(p[0]).width;
        });
      }
      ctx.restore();
    }
  };
}

const baseOptions = (xmin, xmax, xstep, ymin, ymax, ystep, padding, xh) => ({
  responsive: false,
  animation: false,
  events: [],
  devicePixelRatio: 1,
  layout: {padding},
  plugins: {legend: {display: false}, tooltip: {enabled: false}},
  elements: {point: {radius: 0}, line: {borderJoinStyle: 'round', borderCapStyle: 'butt'}},
  scales: {
    x: {type: 'linear', min: xmin, max: xmax,
        ticks: {stepSize: xstep, display: false, includeBounds: false},
        grid: {display: false}, border: {display: false},
        afterFit: s => { s.height = xh; }},
    y: {type: 'linear', min: ymin, max: ymax,
        ticks: {stepSize: ystep, display: false, includeBounds: false},
        grid: {display: false}, border: {display: false},
        afterFit: s => { s.width = 83.5; }}
  }
});

// ---------- top chart ----------
const surveyDatasets = [
  {data: toPoints(forestEdge), borderColor: '#000', borderWidth: 1, backgroundColor: '#0a0a0a',
   fill: {value: -0.0018}, tension: 0.3, order: 4},
  {data: sticks(faintLines), borderColor: '#111', borderWidth: 1.1, order: 3},
  {data: sticks(weakLines), borderColor: '#000', borderWidth: 1.2, order: 3},
  {data: sticks(mediumLines), borderColor: '#000', borderWidth: 1.2, order: 3},
  {data: sticks(strongLines), borderColor: '#000', borderWidth: 1.3, order: 3}
];
bandEnvelopes.forEach((segs, i) => {
  segs.forEach(seg => surveyDatasets.push({
    data: toPoints(seg), borderColor: bandColors[i], borderWidth: 3,
    cubicInterpolationMode: 'monotone', order: 1
  }));
});

new Chart(document.getElementById('survey'), {
  type: 'line',
  data: {datasets: surveyDatasets},
  options: baseOptions(3449.5, 3790.2, 10, -0.004, 0.2025, 0.01, {top: 13, right: 7, left: 0, bottom: 0}, 57),
  plugins: [
    {
      id: 'surveyNotes',
      afterDatasetsDraw(chart) {
        const {ctx, scales: {x, y}} = chart;
        ctx.save();
        bandNames.forEach((name, i) => {
          richText(ctx, name, x.getPixelForValue(bandLabelAt[i][0]), y.getPixelForValue(bandLabelAt[i][1]), bandColors[i]);
        });
        ctx.fillStyle = INK;
        ctx.font = `68px ${SERIF}`;
        ctx.textAlign = 'left';
        ctx.textBaseline = 'alphabetic';
        ctx.fillText('HNC', x.getPixelForValue(moleculeAt[0]), y.getPixelForValue(moleculeAt[1]));
        ctx.restore();
      }
    },
    framePlugin('surveyFrame', {xLabels: surveyTickLabelsX, yLabels: surveyTickLabelsY, titleY: 267})
  ]
});

// ---------- bottom chart ----------
new Chart(document.getElementById('closeup'), {
  type: 'line',
  data: {datasets: [
    {data: toPoints(closeSpectrum), borderColor: '#111', borderWidth: 1.1, order: 3},
    {data: toPoints(closeEnv16), borderColor: bandColors[6], borderWidth: 3.2, cubicInterpolationMode: 'monotone', order: 1},
    {data: toPoints(closeEnv17), borderColor: bandColors[7], borderWidth: 3.2, cubicInterpolationMode: 'monotone', order: 1}
  ]},
  options: baseOptions(3563.51, 3576.48, 0.5, -0.002, 0.01, 0.0005, {top: 18, right: 7, left: 0, bottom: 0}, 69),
  plugins: [
    {
      id: 'closeNotes',
      afterDatasetsDraw(chart) {
        const {ctx, scales: {x, y}} = chart;
        ctx.save();
        richText(ctx, bandNames[6], x.getPixelForValue(closeLabelAt[0][0]), y.getPixelForValue(closeLabelAt[0][1]), bandColors[6]);
        richText(ctx, bandNames[7], x.getPixelForValue(closeLabelAt[1][0]), y.getPixelForValue(closeLabelAt[1][1]), bandColors[7]);
        ctx.restore();
      }
    },
    framePlugin('closeFrame', {xLabels: closeTickLabelsX, yLabels: closeTickLabelsY, titleY: 286, xTitle: true})
  ]
});

// ---------- level diagram ----------
// horizontal layout of the diagram, in arbitrary units 0..100 across the panel
const LEVEL_X0 = 13.1, LEVEL_X1 = 84.0, ARROW_X0 = 16.5, ARROW_DX = 3.367, LABEL_X = 87.3;
const energyOf = name => levelEnergy[levelNames.indexOf(name)];

const levelPoints = [];
levelNames.forEach((n, i) => {
  levelPoints.push({x: LEVEL_X0, y: levelEnergy[i]}, {x: LEVEL_X1, y: levelEnergy[i]}, {x: LEVEL_X1, y: null});
});
const transitionPoints = [];
transitions.forEach(([up, low], i) => {
  const xv = ARROW_X0 + i * ARROW_DX;
  transitionPoints.push({x: xv, y: energyOf(up)}, {x: xv, y: energyOf(low)}, {x: xv, y: null});
});

new Chart(document.getElementById('levels'), {
  type: 'line',
  data: {datasets: [
    {data: levelPoints, borderColor: '#242424', borderWidth: 2, pointRadius: 0, spanGaps: false, clip: false},
    {data: transitionPoints, borderColor: '#242424', borderWidth: 2.2, pointRadius: 0, spanGaps: false, clip: false}
  ]},
  options: {
    responsive: false,
    animation: false,
    events: [],
    devicePixelRatio: 1,
    layout: {padding: {top: 41, right: 0, bottom: 93.8, left: 0}},
    plugins: {legend: {display: false}, tooltip: {enabled: false}},
    scales: {
      x: {type: 'linear', min: 0, max: 100, display: false},
      y: {
        type: 'linear', min: 0, max: 8170,
        afterBuildTicks: s => { s.ticks = energyTicks.map(v => ({value: v})); },
        ticks: {font: {family: 'Liberation Serif', size: 26}, color: INK, padding: 6,
                callback: v => String(v)},
        grid: {drawOnChartArea: false, tickLength: 18, lineWidth: 3, color: INK},
        border: {width: 3, color: INK},
        afterFit: s => { s.width = 99; }
      }
    }
  },
  plugins: [{
    id: 'levelDecor',
    afterDraw(chart) {
      const {ctx, chartArea: a, scales: {x, y}} = chart;
      ctx.save();
      // arrow head of the energy axis
      ctx.fillStyle = INK;
      ctx.beginPath();
      ctx.moveTo(a.left, 25);
      ctx.lineTo(a.left - 8.8, 42);
      ctx.lineTo(a.left + 8.8, 42);
      ctx.closePath();
      ctx.fill();

      // axis title T_v(J=0)
      ctx.textAlign = 'left';
      ctx.textBaseline = 'alphabetic';
      ctx.font = `60px ${SERIF}`;
      ctx.fillText('T', 135, 122.5);
      ctx.font = `29px ${SERIF}`;
      ctx.fillText('v(J=0)', 173, 136);

      // arrow heads of the transitions
      ctx.strokeStyle = INK;
      ctx.lineWidth = 2.4;
      ctx.lineJoin = 'miter';
      transitions.forEach(([up, low], i) => {
        const px = x.getPixelForValue(ARROW_X0 + i * ARROW_DX);
        const tip = y.getPixelForValue(energyOf(low)) - 2;
        ctx.beginPath();
        ctx.moveTo(px - 8, tip - 11);
        ctx.lineTo(px, tip);
        ctx.lineTo(px + 8, tip - 11);
        ctx.stroke();
      });

      // level labels, spread within each (v1 v2) group
      const groups = {};
      levelNames.forEach((n, i) => { (groups[n.slice(0, 2)] = groups[n.slice(0, 2)] || []).push(i); });
      ctx.font = `22px ${SERIF}`;
      ctx.textBaseline = 'middle';
      const lx = x.getPixelForValue(LABEL_X);
      Object.values(groups).forEach(idx => {
        idx.sort((p, q) => levelEnergy[q] - levelEnergy[p]);
        const px = idx.map(i => y.getPixelForValue(levelEnergy[i]));
        const mid = px.reduce((s, v) => s + v, 0) / px.length;
        const gap = idx.length >= 3 ? 15.9 : 18.5;
        idx.forEach((i, k) => {
          ctx.fillText(levelNames[i], lx, mid + (k - (idx.length - 1) / 2) * gap);
        });
      });
      ctx.restore();
    }
  }]
});
</script>
</body>
</html>
